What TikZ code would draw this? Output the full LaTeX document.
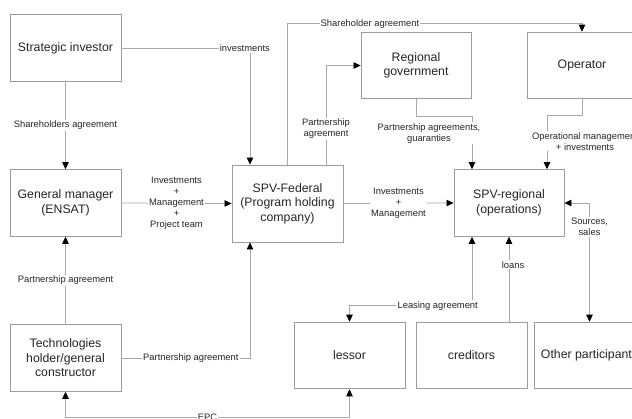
\documentclass[tikz,border=0pt]{standalone}
\usepackage{fontspec}
\setmainfont{Liberation Sans}
\usetikzlibrary{arrows.meta,calc}
\definecolor{linegray}{HTML}{A8A8A8}
\definecolor{boxgray}{HTML}{9C9C9C}
\definecolor{textgray}{HTML}{262626}
\tikzset{
  box/.style = {draw=boxgray, line width=0.7pt, fill=white, align=center, inner sep=0pt, text=textgray,
    minimum width=3.33cm, minimum height=2cm, font=\fontsize{10.5}{12.3}\selectfont},
  conn/.style = {draw=linegray, line width=0.65pt},
  lbl/.style = {fill=white, inner sep=1pt, align=center, text=textgray, font=\fontsize{8}{9.4}\selectfont},
  arw/.tip = {Triangle[length=6pt, width=5.5pt, color=black]}
}
\begin{document}
\begin{tikzpicture}[x=0.03cm, y=-0.03cm]
\useasboundingbox (0,0) rectangle (632,419);
\clip (0,0) rectangle (632,419);

\node [box] (strat) at (65.5,48) {Strategic investor};
\node [box] (gm) at (65.5,203) {General manager\\(ENSAT)};
\node [box] (tech) at (65.5,358) {Technologies\\holder/general\\constructor};
\node [box, minimum height=2.31cm] (fed) at (287.5,203.5) {SPV-Federal\\(Program holding\\company)};
\node [box, minimum width=3.3cm] (regov) at (416,65.5) {Regional\\government};
\node [box, minimum width=3.3cm] (oper) at (582,65.5) {Operator};
\node [box, minimum width=3.3cm] (spvr) at (509,203) {SPV-regional\\(operations)};
\node [box] (lessor) at (349.5,355.5) {lessor};
\node [box] (cred) at (471.5,355.5) {creditors};
\node [box] (other) at (589.5,355.5) {Other participants};

\draw [conn, -arw] (strat.east) -| node [lbl, pos=0.48] (l-inv) {investments} ($(fed.north)+(-37.5,0)$);
\draw [conn, -arw] (strat.south) -- node [lbl] (l-sha) {Shareholders agreement} (gm.north);
\draw [conn, -arw] (gm.east) -- node [lbl] (l-imp) {Investments\\+\\Management\\+\\Project team} (fed.west);
\draw [conn, -arw] (tech.north) -- node [lbl] (l-pa1) {Partnership agreement} (gm.south);
\draw [conn, -arw] (tech.east) -| node [lbl, pos=0.27] (l-pa2) {Partnership agreement} ($(fed.south)+(-37.5,0)$);
\draw [conn, arw-arw] (tech.south) -- ++(0,26) -| node [lbl, pos=0.25] (l-epc) {EPC} (lessor.south);
\draw [conn, -arw] ($(fed.north)+(38.5,0)$) |- node [lbl, pos=0.18] (l-pa3) {Partnership\\agreement} (regov.west);
\draw [conn, -arw] (fed.north) -- ++(0,-141) -| node [lbl, pos=0.14] (l-sha2) {Shareholder agreement} (oper.north);
\draw [conn, -arw] (regov.south) -- ++(0,17) -| node [lbl, pos=0.66, xshift=-1.29cm] (l-pag) {Partnership agreements,\\guaranties} ($(spvr.north)+(-37,0)$);
\draw [conn, -arw] (oper.south) -- ++(0,16) -| node [lbl, pos=0.74, xshift=1.14cm] (l-opm) {Operational management\\+ investments} ($(spvr.north)+(38,0)$);
\draw [conn, -arw] (fed.east) -- node [lbl] (l-im2) {Investments\\+\\Management} (spvr.west);
\draw [conn, arw-arw] (spvr.east) -| node [lbl, pos=0.6] (l-src) {Sources,\\sales} (other.north);
\draw [conn, -arw] (cred.north -| spvr.south) -- node [lbl, pos=0.67, xshift=0.12cm] (l-loa) {loans} (spvr.south);
\draw [conn, arw-arw] (lessor.north) -- ++(0,-16) -| node [lbl, pos=0.36] (l-lea) {Leasing agreement} ($(spvr.south)+(-37,0)$);
\end{tikzpicture}
\end{document}
